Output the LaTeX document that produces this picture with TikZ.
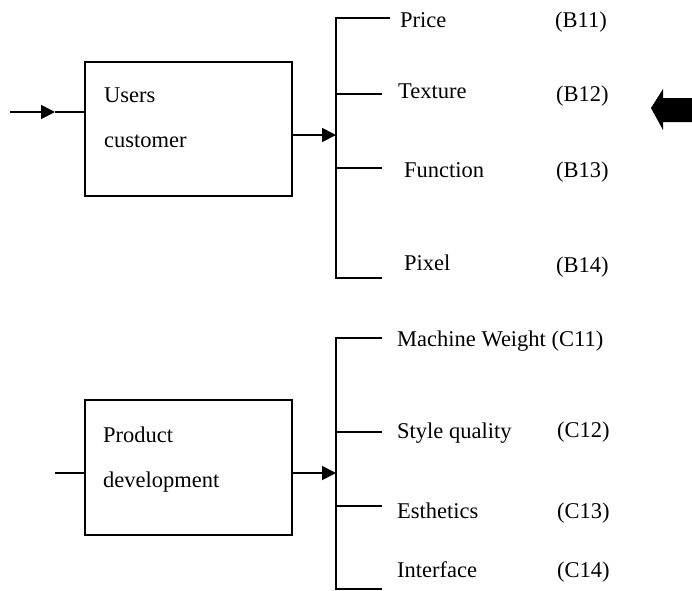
\documentclass[tikz,border=0pt]{standalone}
\usepackage{fontspec}
\setmainfont{Liberation Serif}
\usetikzlibrary{arrows.meta, positioning}
\tikzset{
    box/.style={draw=black, line width=1.8pt, fill=white, inner sep=0pt, minimum width=207pt},
    boxtext/.style={align=left, inner sep=0pt, anchor=north west, font=\fontsize{22.5}{45}\selectfont},
    item/.style={inner sep=0pt, anchor=base west, font=\fontsize{22.5}{27}\selectfont},
    arrow/.style={-{Triangle[length=14pt,width=14pt]}, line width=1.8pt},
    line/.style={line width=1.8pt}
}

\begin{document}
\begin{tikzpicture}[x=1pt,y=-1pt]
        \useasboundingbox (0,0) rectangle (692,590);
        % users / customer
        \node [box, minimum height=134pt] (users) at (188.5,129) {};
        \node [boxtext] (userstext) at (104,88) {Users\\customer};
        \coordinate (usersin) at (10,112);
        \coordinate (usersmid) at (55,112);
        \coordinate (busB) at (336,135);
        \coordinate (btop) at (336,18);
        \coordinate (bbot) at (336,278);
        \coordinate (b11) at (390,18);
        \coordinate (b12) at (382,94);
        \coordinate (b13) at (382,168);
        \coordinate (b14) at (382,278);
        \node [item] (price) at (400,27) {Price};
        \node [item] (texture) at (398,98) {Texture};
        \node [item] (function) at (404,177) {Function};
        \node [item] (pixel) at (404,270) {Pixel};
        \node [item] (B11) at (555,27) {(B11)};
        \node [item] (B12) at (556,101) {(B12)};
        \node [item] (B13) at (556,177) {(B13)};
        \node [item] (B14) at (556,272) {(B14)};

        \draw [arrow] (usersin) -- (usersmid);
        \draw [line] (usersmid) -- (users.west |- usersmid);
        \draw [arrow] (users.east |- busB) -- (busB);
        \draw [line] (b11) -- (btop) -- (bbot) -- (b14);
        \draw [line] (btop |- b12) -- (b12);
        \draw [line] (btop |- b13) -- (b13);

        % product development
        \node [box, minimum height=135pt] (product) at (188.5,467.5) {};
        \node [boxtext] (producttext) at (103,427) {Product\\development};
        \coordinate (prodin) at (55,473);
        \coordinate (busC) at (336,473);
        \coordinate (ctop) at (336,338);
        \coordinate (cbot) at (336,589);
        \coordinate (c11) at (382,338);
        \coordinate (c12) at (382,432);
        \coordinate (c13) at (382,506);
        \coordinate (c14) at (382,589);
        \node [item] (weight) at (397,346) {Machine Weight (C11)};
        \node [item] (style) at (397,438) {Style quality};
        \node [item] (esthetics) at (397,518) {Esthetics};
        \node [item] (interface) at (397,577) {Interface};
        \node [item] (C12) at (557,437) {(C12)};
        \node [item] (C13) at (557,518) {(C13)};
        \node [item] (C14) at (557,577) {(C14)};

        \draw [line] (prodin) -- (product.west |- prodin);
        \draw [arrow] (product.east |- busC) -- (busC);
        \draw [line] (c11) -- (ctop) -- (cbot) -- (c14);
        \draw [line] (ctop |- c12) -- (c12);
        \draw [line] (ctop |- c13) -- (c13);

        % big arrow on the right
        \fill (651,108) -- (663,89) -- (663,98) -- (692,98) -- (692,122) -- (663,122) -- (663,130) -- cycle;
    \end{tikzpicture}
\end{document}
